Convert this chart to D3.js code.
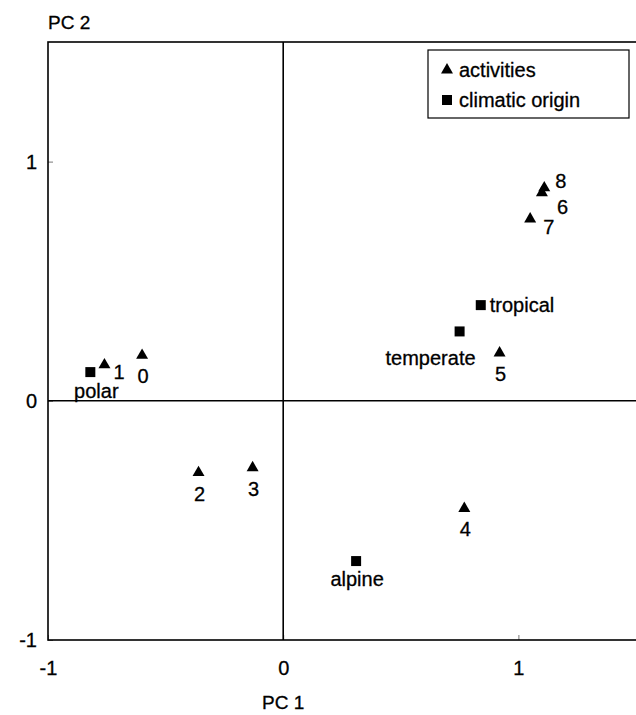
<!DOCTYPE html>
<html>
<head>
<meta charset="utf-8">
<script src="https://cdn.jsdelivr.net/npm/d3@7"></script>
<style>
  body { margin: 0; background: #fff; }
  svg { display: block; font-family: "Liberation Sans", Arial, Helvetica, sans-serif; }
  svg text { stroke: #000; stroke-width: 0.3px; }
</style>
</head>
<body>
<svg id="chart" width="636" height="715"></svg>
<script>
// ---- data ----
const activityLabels = ["0", "1", "2", "3", "4", "5", "6", "7", "8"];
const activityPC1 = [-0.60, -0.76, -0.36, -0.13, 0.77, 0.92, 1.10, 1.05, 1.11];
const activityPC2 = [0.19, 0.15, -0.30, -0.28, -0.45, 0.20, 0.87, 0.76, 0.89];
const activityLabelPos = ["below", "right", "below", "below", "below", "below", "downright", "downright2", "upright"];

const originLabels = ["polar", "temperate", "tropical", "alpine"];
const originPC1 = [-0.82, 0.75, 0.84, 0.31];
const originPC2 = [0.12, 0.29, 0.40, -0.67];
const originLabelPos = ["belowpolar", "belowleft", "rightmid", "belowsq"];

const xTicks = [-1, 0, 1];
const yTicks = [-1, 0, 1];
const xDomain = [-1, 1.5];
const yDomain = [-1, 1.5];
const legendLabels = ["activities", "climatic origin"];

// ---- layout ----
const svg = d3.select("#chart");
const mLeft = 48, mTop = 42, mRight = 636, mBottom = 640;
const x = d3.scaleLinear().domain(xDomain).range([mLeft, mRight]);
const y = d3.scaleLinear().domain(yDomain).range([mBottom, mTop]);
const fs = 20;

// axes (inward ticks)
const xAxis = d3.axisBottom(x).tickValues(xTicks)
  .tickSizeInner(-5).tickSizeOuter(0).tickPadding(21);
const yAxis = d3.axisLeft(y).tickValues(yTicks)
  .tickSizeInner(-5).tickSizeOuter(0).tickPadding(11);

const gx = svg.append("g").attr("transform", `translate(0,${mBottom})`).call(xAxis);
const gy = svg.append("g").attr("transform", `translate(${mLeft},0)`).call(yAxis);
[gx, gy].forEach(g => {
  g.select(".domain").remove();
  g.selectAll(".tick line").attr("stroke", "#777").attr("stroke-width", 1);
  g.selectAll(".tick text").attr("font-size", fs).attr("fill", "#000")
    .attr("font-family", "Liberation Sans, Arial, sans-serif")
    .text(d => d < 0 ? "-" + Math.abs(d) : String(d));
});

// frame
svg.append("rect")
  .attr("x", mLeft).attr("y", mTop)
  .attr("width", mRight + 2 - mLeft).attr("height", mBottom - mTop)
  .attr("fill", "none").attr("stroke", "#000").attr("stroke-width", 1.6);

// zero lines
svg.append("line").attr("x1", x(0)).attr("x2", x(0)).attr("y1", mTop).attr("y2", mBottom)
  .attr("stroke", "#000").attr("stroke-width", 1.6);
svg.append("line").attr("x1", mLeft).attr("x2", mRight).attr("y1", y(0)).attr("y2", y(0))
  .attr("stroke", "#000").attr("stroke-width", 1.6);

// axis titles
svg.append("text").attr("x", mLeft).attr("y", 29).attr("font-size", fs - 1).text("PC 2");
svg.append("text").attr("x", x(0)).attr("y", 709).attr("text-anchor", "middle")
  .attr("font-size", fs - 1).text("PC 1");

// symbols
const tri = d3.symbol().type(d3.symbolTriangle).size(62);
const sq = d3.symbol().type(d3.symbolSquare).size(100);

const offsets = {
  below:      { dx: 1,  dy: 28, anchor: "middle" },
  belowsq:    { dx: 1,  dy: 25, anchor: "middle" },
  right:      { dx: 9,  dy: 14, anchor: "start" },
  rightmid:   { dx: 9,  dy: 7,  anchor: "start" },
  upright:    { dx: 11, dy: 0,  anchor: "start" },
  downright:  { dx: 15, dy: 21, anchor: "start" },
  downright2: { dx: 13, dy: 15, anchor: "start" },
  belowpolar: { dx: 6,  dy: 26, anchor: "middle" },
  belowleft:  { dx: 16, dy: 34, anchor: "end" }
};

const acts = activityLabels.map((l, i) => ({ l, px: activityPC1[i], py: activityPC2[i], pos: activityLabelPos[i] }));
const origs = originLabels.map((l, i) => ({ l, px: originPC1[i], py: originPC2[i], pos: originLabelPos[i] }));

svg.append("g").selectAll("path").data(acts).join("path")
  .attr("d", tri).attr("transform", d => `translate(${x(d.px)},${y(d.py)})`).attr("fill", "#000");
svg.append("g").selectAll("path").data(origs).join("path")
  .attr("d", sq).attr("transform", d => `translate(${x(d.px)},${y(d.py)})`).attr("fill", "#000");

svg.append("g").selectAll("text").data(acts.concat(origs)).join("text")
  .attr("x", d => x(d.px) + offsets[d.pos].dx)
  .attr("y", d => y(d.py) + offsets[d.pos].dy)
  .attr("text-anchor", d => offsets[d.pos].anchor)
  .attr("font-size", fs).text(d => d.l);

// legend
const lg = svg.append("g");
lg.append("rect").attr("x", 428).attr("y", 50).attr("width", 201).attr("height", 68)
  .attr("fill", "#fff").attr("stroke", "#000").attr("stroke-width", 1.2);
const legSyms = [tri, sq];
legendLabels.forEach((t, i) => {
  const cy = 70 + i * 30;
  lg.append("path").attr("d", legSyms[i]).attr("transform", `translate(447,${cy})`).attr("fill", "#000");
  lg.append("text").attr("x", 459).attr("y", cy + 7).attr("font-size", fs).text(t);
});
</script>
</body>
</html>
